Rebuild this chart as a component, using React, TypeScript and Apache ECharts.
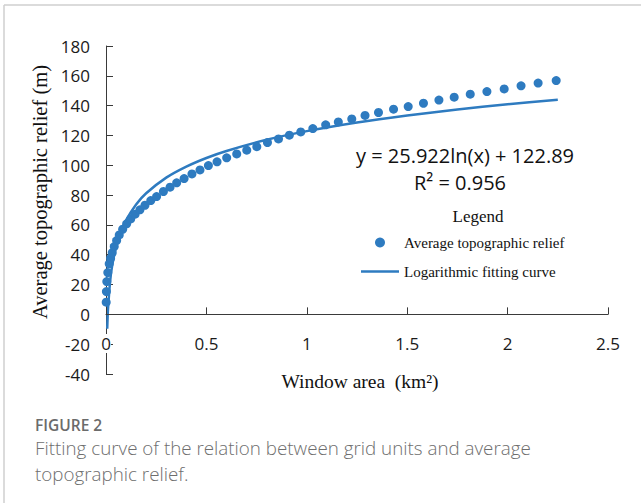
import React, { useEffect, useRef } from "react";
import * as echarts from "echarts";

// Window area (km²) and average topographic relief (m)
const reliefX = [
  0.001, 0.002, 0.004, 0.009, 0.016, 0.023, 0.031, 0.041, 0.053, 0.066,
  0.083, 0.103, 0.123, 0.145, 0.169, 0.194, 0.223, 0.252, 0.286, 0.319,
  0.352, 0.389, 0.428, 0.468, 0.51, 0.553, 0.601, 0.651, 0.701, 0.751,
  0.804, 0.859, 0.913, 0.97, 1.03, 1.094, 1.157, 1.224, 1.29, 1.357,
  1.432, 1.505, 1.581, 1.658, 1.734, 1.814, 1.897, 1.983, 2.067, 2.152, 2.242,
];
const reliefY = [
  8.2, 15.3, 22.0, 28.0, 33.9, 37.7, 41.4, 45.5, 49.5, 53.3,
  57.1, 60.7, 64.0, 67.2, 70.1, 73.2, 76.3, 79.0, 82.4, 85.3,
  88.2, 91.1, 94.2, 96.9, 99.8, 102.3, 105.0, 107.6, 110.1, 112.5,
  115.2, 117.7, 120.2, 122.4, 124.6, 127.1, 129.1, 131.1, 133.4, 135.4,
  137.6, 139.4, 141.6, 143.7, 145.7, 147.7, 149.4, 151.2, 153.3, 155.1, 156.8,
];

// Logarithmic fitting curve (y = 25.922ln(x) + 122.89)
const fitX = [0.006, 0.008, 0.01, 0.02, 0.03, 0.05, 0.075, 0.1, 0.15, 0.2, 0.3, 0.4, 0.5, 0.6, 0.8, 1.0, 1.25, 1.5, 1.75, 2.0, 2.25];
const fitY = [-9.7, -2.3, 3.5, 21.5, 32.0, 45.2, 55.8, 63.2, 73.7, 81.2, 91.7, 99.1, 104.9, 109.6, 117.1, 122.9, 128.7, 133.4, 137.4, 140.9, 143.9];

const seriesNames = ["Average topographic relief", "Logarithmic fitting curve"];
const yTitle = "Average topographic relief (m)";
const xTitle = "Window area  (km\u00B2)";
const equation = "y = 25.922ln(x) + 122.89";
const rSquared = "R\u00B2 = 0.956";
const legendTitle = "Legend";
const captionHead = "FIGURE 2";
const captionLines = [
  "Fitting curve of the relation between grid units and average",
  "topographic relief.",
];

const BLUE = "#2e7bc0";
const AXIS = "#3a3a3a";
const SANS = "'Open Sans', 'Noto Sans', sans-serif";
const SERIF = "'Liberation Serif', 'DejaVu Serif', serif";

export default function App() {
  const ref = useRef<HTMLDivElement>(null);

  useEffect(() => {
    if (!ref.current) return;
    const chart = echarts.init(ref.current, undefined, { renderer: "svg" });
    chart.setOption({
      animation: false,
      backgroundColor: "#ffffff",
      grid: { left: 106, right: 33, top: 46, bottom: 129 },
      xAxis: {
        type: "value",
        min: 0,
        max: 2.5,
        interval: 0.5,
        z: 4,
        axisLine: { onZero: true, lineStyle: { color: AXIS, width: 1 } },
        axisTick: { inside: true, length: 7, lineStyle: { color: AXIS } },
        splitLine: { show: false },
        axisLabel: {
          inside: true,
          margin: 21,
          fontFamily: SANS,
          fontSize: 17,
          color: "#1a1a1a",
          backgroundColor: "#ffffff",
          padding: [1, 0],
        },
      },
      yAxis: {
        type: "value",
        min: -40,
        max: 180,
        interval: 20,
        z: 1,
        axisLine: { show: true, onZero: false, lineStyle: { color: AXIS, width: 1 } },
        axisTick: { show: true, inside: true, length: 7, lineStyle: { color: AXIS } },
        splitLine: { show: false },
        axisLabel: {
          margin: 16,
          fontFamily: SANS,
          fontSize: 17,
          color: "#1a1a1a",
        },
      },
      legend: {
        orient: "vertical",
        left: 356,
        top: 230,
        itemWidth: 38,
        itemHeight: 10,
        itemGap: 14,
        textStyle: { fontFamily: SERIF, fontSize: 15, color: "#111" },
        data: [
          { name: seriesNames[0], icon: "circle" },
          { name: seriesNames[1], icon: "path://M0 0H40V2.6H0Z" },
        ],
      },
      series: [
        {
          name: seriesNames[1],
          type: "line",
          data: fitX.map((x, i) => [x, fitY[i]]),
          smooth: 0.3,
          showSymbol: false,
          symbol: "none",
          lineStyle: { color: BLUE, width: 2.5 },
          itemStyle: { color: BLUE },
          z: 2,
        },
        {
          name: seriesNames[0],
          type: "scatter",
          data: reliefX.map((x, i) => [x, reliefY[i]]),
          symbolSize: 9,
          itemStyle: { color: BLUE, opacity: 1 },
          z: 3,
        },
      ],
      graphic: [
        { type: "line", shape: { x1: 4, y1: 5, x2: 641, y2: 5 }, style: { stroke: "#cfcfcf", lineWidth: 1.5 } },
        { type: "line", shape: { x1: 4, y1: 5, x2: 4, y2: 503 }, style: { stroke: "#cfcfcf", lineWidth: 1.5 } },
        {
          type: "text",
          x: 40,
          y: 192,
          rotation: Math.PI / 2,
          style: { text: yTitle, fontFamily: SERIF, fontSize: 20.5, fill: "#111", align: "center", verticalAlign: "middle" },
        },
        {
          type: "text",
          x: 360,
          y: 381,
          style: { text: xTitle, fontFamily: SERIF, fontSize: 19.5, fill: "#111", align: "center", verticalAlign: "middle" },
        },
        {
          type: "text",
          x: 465,
          y: 155,
          style: { text: equation, fontFamily: SANS, fontSize: 20, fill: "#111", align: "center", verticalAlign: "middle" },
        },
        {
          type: "text",
          x: 460,
          y: 182,
          style: { text: rSquared, fontFamily: SANS, fontSize: 20, fill: "#111", align: "center", verticalAlign: "middle" },
        },
        {
          type: "text",
          x: 478,
          y: 216,
          style: { text: legendTitle, fontFamily: SERIF, fontSize: 17, fill: "#111", align: "center", verticalAlign: "middle" },
        },
        {
          type: "text",
          x: 35,
          y: 425,
          style: { text: captionHead, fontFamily: SANS, fontSize: 15.5, lineHeight: 15, fontWeight: 600, fill: "#6b6b6b", align: "left", verticalAlign: "middle" },
        },
        {
          type: "text",
          x: 35,
          y: 448,
          style: { text: captionLines[0], fontFamily: SANS, fontSize: 18.8, lineHeight: 19, fontWeight: 300, fill: "#6e6e6e", align: "left", verticalAlign: "middle" },
        },
        {
          type: "text",
          x: 35,
          y: 474,
          style: { text: captionLines[1], fontFamily: SANS, fontSize: 18.8, lineHeight: 19, fontWeight: 300, fill: "#6e6e6e", align: "left", verticalAlign: "middle" },
        },
      ],
    });
    return () => chart.dispose();
  }, []);

  return (
    <div
      ref={ref}
      style={{ position: "absolute", left: 0, top: 0, width: 641, height: 503, background: "#fff" }}
    />
  );
}
